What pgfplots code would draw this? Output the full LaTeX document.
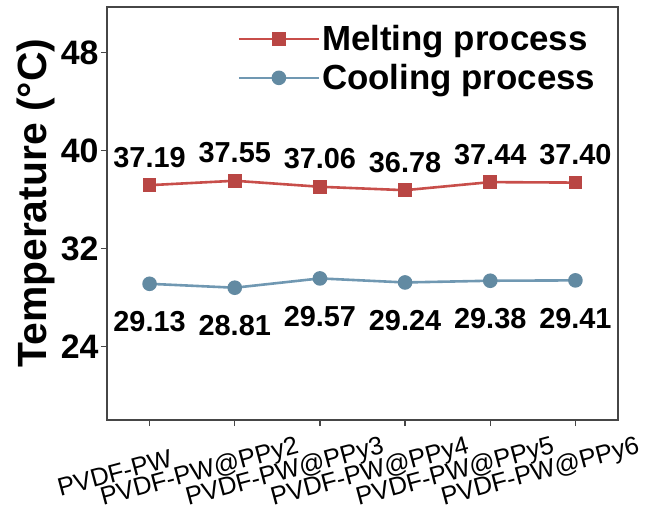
\documentclass[border=0pt]{standalone}
\usepackage{fontspec}
\setmainfont{Liberation Sans}
\usepackage{pgfplots}
\pgfplotsset{compat=1.18}
\usepackage{pgfplotstable}
\definecolor{melt}{RGB}{200,78,74}
\definecolor{meltm}{RGB}{185,70,68}
\definecolor{cool}{RGB}{112,152,178}
\definecolor{coolm}{RGB}{98,138,162}
\definecolor{axgray}{RGB}{70,70,70}
\pgfplotstableread{
x y lab
0 37.19 37.19
1 37.55 37.55
2 37.06 37.06
3 36.78 36.78
4 37.44 37.44
5 37.40 37.40
}\melt
\pgfplotstableread{
x y lab
0 29.13 29.13
1 28.81 28.81
2 29.57 29.57
3 29.24 29.24
4 29.38 29.38
5 29.41 29.41
}\cool
\begin{document}
\begin{tikzpicture}
\begin{axis}[
  name=ax,
  scale only axis,
  width=511bp, height=413bp,
  xmin=-0.5, xmax=5.5,
  ymin=18, ymax=51.75,
  ytick={24,32,40,48},
  xtick={0,1,2,3,4,5},
  xticklabels={PVDF-PW,PVDF-PW@PPy2,PVDF-PW@PPy3,PVDF-PW@PPy4,PVDF-PW@PPy5,PVDF-PW@PPy6},
  axis line style={axgray, line width=1.6bp},
  tick style={axgray, line width=1.2bp},
  tick align=outside,
  major tick length=6bp,
  xtick pos=bottom, ytick pos=left,
  /pgf/number format/assume math mode=true,
  yticklabel style={font=\fontsize{34}{38}\selectfont\bfseries, xshift=1bp},
  xticklabel style={xshift=-35bp, yshift=-47bp, rotate=15, anchor=center, font=\fontsize{25.5}{30}\selectfont},
  ylabel={Temperature (°C)},
  ylabel style={font=\fontsize{41}{46}\selectfont\bfseries, at={(axis description cs:-0.139,0.525)}, anchor=center},
  legend style={draw=none, fill=none, at={(rel axis cs:0.96,0.96)}, anchor=north east,
    font=\fontsize{35}{42}\selectfont\bfseries, row sep=8bp, inner sep=0bp,
    cells={anchor=west}},
  legend image code/.code={\draw[mark repeat=2,mark phase=2,#1] plot coordinates {(0bp,0bp) (40bp,0bp) (80bp,0bp)};},
  clip=false,
]
\addplot[melt, line width=2.6bp, mark=square*, mark size=5.5bp, mark options={fill=meltm, draw=meltm},
  nodes near coords, point meta=explicit symbolic,
  every node near coord/.append style={anchor=center, yshift=28bp, font=\fontsize{29}{32}\selectfont\bfseries, black}]
  table[x=x, y=y, meta=lab] {\melt};
\addlegendentry{Melting process}
\addplot[cool, line width=2.6bp, mark=*, mark size=6bp, mark options={fill=coolm, draw=coolm},
  nodes near coords, point meta=explicit symbolic,
  every node near coord/.append style={anchor=center, yshift=-38bp, font=\fontsize{29}{32}\selectfont\bfseries, black}]
  table[x=x, y=y, meta=lab] {\cool};
\addlegendentry{Cooling process}
\end{axis}
\pgfresetboundingbox
\path (ax.south west) ++(-107bp,-86bp) rectangle (ax.north east) ++(27bp,7bp);
\end{tikzpicture}
\end{document}
